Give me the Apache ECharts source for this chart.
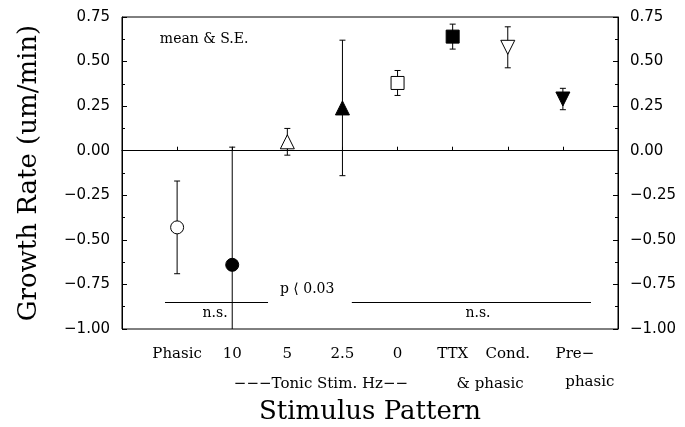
<!DOCTYPE html>
<html>
<head>
<meta charset="utf-8">
<script src="https://cdn.jsdelivr.net/npm/echarts@6/dist/echarts.min.js"></script>
<style>
  html, body { margin: 0; padding: 0; background: #fff; }
  #chart { width: 685px; height: 427px; }
</style>
</head>
<body>
<div id="chart"></div>
<script>
// stimulus groups along the x axis (positions 1..8)
const categories = ['Phasic', '10', '5', '2.5', '0', 'TTX', 'Cond.', 'Pre−']
const means = [-0.43, -0.64, 0.05, 0.24, 0.38, 0.64, 0.58, 0.29]
const stdErrs = [0.26, 0.66, 0.075, 0.38, 0.07, 0.07, 0.115, 0.06]

// significance bars: [xFrom, xTo, y]
const sigLines = [[0.78, 2.65, -0.85], [4.17, 8.51, -0.85]]
// free text in data units: [text, x, y]
const notes = [
  ['mean & S.E.', 1.49, 0.627],
  ['p ⟨ 0.03', 3.36, -0.775],
  ['n.s.', 1.69, -0.915],
  ['n.s.', 6.46, -0.915]
]
const subLabels = [
  ['−−−Tonic Stim. Hz−−', 3.61, -1.31],
  ['& phasic', 6.68, -1.31],
  ['phasic', 8.49, -1.30]
]

// marker look per group: [symbol, filled, rotate]
const markerLook = [
  ['circle', false, 0], ['circle', true, 0],
  ['triangle', false, 0], ['triangle', true, 0],
  ['rect', false, 0], ['rect', true, 0],
  ['triangle', false, 180], ['triangle', true, 180]
]
const markerSize = { circle: 13, triangle: 14, rect: 13 }

const Y_MIN = -1, Y_MAX = 0.75
const SERIF = 'DejaVu Serif'

const fmtY = v => v.toFixed(2).replace('-', '−')

const yAxisBase = {
  type: 'value',
  min: Y_MIN,
  max: Y_MAX,
  interval: 0.25,
  axisLine: { show: true, lineStyle: { color: '#000', width: 1 } },
  axisTick: { show: true, inside: true, length: 5, lineStyle: { color: '#000' } },
  minorTick: { show: true, splitNumber: 2, length: 3, lineStyle: { color: '#000' } },
  splitLine: { show: false },
  axisLabel: { formatter: fmtY, color: '#000', fontFamily: 'DejaVu Sans', fontSize: 15, margin: 12 }
}

const errData = means.map((m, i) => [i + 1, m - stdErrs[i], m + stdErrs[i]])

const markerData = means.map((m, i) => {
  const [sym, filled, rot] = markerLook[i]
  return {
    value: [i + 1, m],
    symbol: sym,
    symbolRotate: rot,
    symbolSize: markerSize[sym],
    itemStyle: { color: filled ? '#000' : '#fff', borderColor: '#000', borderWidth: 1, opacity: 1 }
  }
})

const textSeries = (items, size) => ({
  type: 'scatter',
  symbolSize: 0,
  clip: false,
  silent: true,
  z: 5,
  itemStyle: { opacity: 1 },
  data: items.map(([t, x, y]) => ({ name: t, value: [x, y] })),
  label: {
    show: true,
    position: 'inside',
    formatter: p => p.name,
    color: '#000',
    opacity: 1,
    fontFamily: SERIF,
    fontSize: size
  }
})

const option = {
  animation: false,
  backgroundColor: '#fff',
  grid: {
    left: 122, right: 67, top: 17, bottom: 98,
    outerBoundsMode: 'none',
    show: true, borderColor: '#000', borderWidth: 1
  },
  xAxis: {
    type: 'value',
    min: 0,
    max: 9,
    interval: 1,
    name: 'Stimulus Pattern',
    nameLocation: 'middle',
    nameGap: 70,
    nameTextStyle: { fontFamily: SERIF, fontSize: 26, color: '#000' },
    axisLine: { show: true, lineStyle: { color: '#000' } },
    axisTick: { show: true, inside: true, length: 4, lineStyle: { color: '#000' } },
    splitLine: { show: false },
    axisLabel: {
      margin: 18,
      color: '#000',
      fontFamily: SERIF,
      fontSize: 15,
      formatter: v => {
        if (v === 8) return '{pre|' + categories[7] + '}'
        return v >= 1 && v <= 7 ? categories[v - 1] : ''
      },
      rich: { pre: { padding: [0, 0, 6, 24], fontFamily: SERIF, fontSize: 15, color: '#000' } }
    }
  },
  yAxis: [
    Object.assign({}, yAxisBase, {
      position: 'left',
      name: 'Growth Rate (um/min)',
      nameLocation: 'middle',
      nameGap: 80,
      nameTextStyle: { fontFamily: SERIF, fontSize: 26, color: '#000' }
    }),
    Object.assign({}, yAxisBase, { position: 'right' })
  ],
  series: [
    {
      type: 'custom',
      z: 2,
      data: errData,
      renderItem: (params, api) => {
        const x = api.value(0), lo = api.value(1), hi = api.value(2)
        const top = api.coord([x, Math.min(hi, Y_MAX)])
        const bot = api.coord([x, Math.max(lo, Y_MIN)])
        const style = { stroke: '#000', lineWidth: 1 }
        const kids = [{ type: 'line', shape: { x1: top[0], y1: top[1], x2: bot[0], y2: bot[1] }, style }]
        if (hi <= Y_MAX) kids.push({ type: 'line', shape: { x1: top[0] - 3, y1: top[1], x2: top[0] + 3, y2: top[1] }, style })
        if (lo >= Y_MIN) kids.push({ type: 'line', shape: { x1: bot[0] - 3, y1: bot[1], x2: bot[0] + 3, y2: bot[1] }, style })
        return { type: 'group', children: kids }
      }
    },
    {
      type: 'scatter',
      z: 3,
      data: markerData,
      markLine: {
        silent: true,
        symbol: 'none',
        label: { show: false },
        lineStyle: { color: '#000', type: 'solid', width: 1, opacity: 1 },
        data: [{ yAxis: 0 }].concat(
          sigLines.map(([a, b, y]) => [{ coord: [a, y] }, { coord: [b, y] }])
        )
      }
    },
    textSeries(notes, 14),
    textSeries(subLabels, 15)
  ]
}

const chart = echarts.init(document.getElementById('chart'))
chart.setOption(option)
</script>
</body>
</html>
